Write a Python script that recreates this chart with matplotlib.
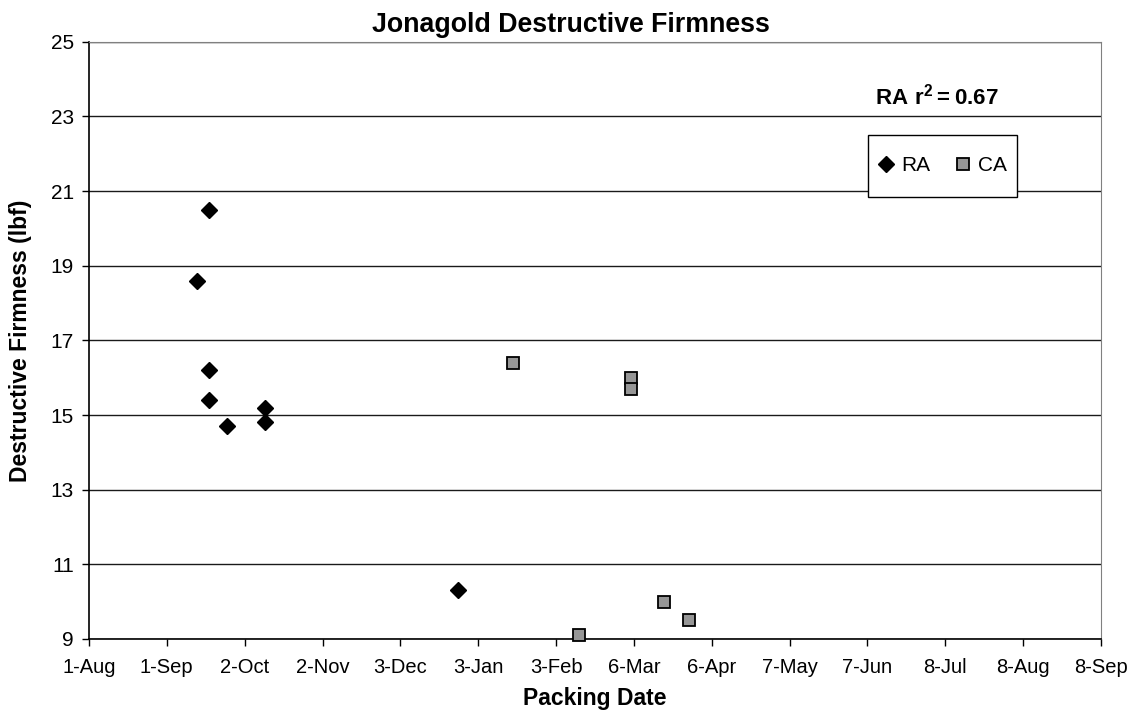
import datetime as dt
import matplotlib
matplotlib.use("Agg")
import matplotlib.pyplot as plt
import matplotlib.dates as mdates
from matplotlib.patches import Rectangle
from matplotlib.ticker import FixedLocator, FuncFormatter

plt.rcParams['font.family'] = ['Liberation Sans', 'DejaVu Sans']
plt.rcParams['mathtext.fontset'] = 'custom'
plt.rcParams['mathtext.rm'] = 'Liberation Sans'
plt.rcParams['mathtext.bf'] = 'Liberation Sans:bold'

# packing dates and firmness
ra_dates = ['2006-09-13', '2006-09-18', '2006-09-18', '2006-09-18',
            '2006-09-25', '2006-10-10', '2006-10-10', '2006-12-26']
ra_firm = [18.6, 20.5, 16.2, 15.4, 14.7, 15.2, 14.8, 10.3]

ca_dates = ['2007-01-17', '2007-02-12', '2007-03-05', '2007-03-05',
            '2007-03-18', '2007-03-28']
ca_firm = [16.4, 9.1, 16.0, 15.7, 10.0, 9.5]

x_start = dt.date(2006, 8, 1)
x_step_days = 31
n_steps = 13
y_ticks = [9, 11, 13, 15, 17, 19, 21, 23, 25]


def to_date(s):
    return dt.datetime.strptime(s, '%Y-%m-%d')


fig = plt.figure(figsize=(11.36, 7.13), dpi=100)
ax = fig.add_axes([0.0783, 0.1038, 0.8909, 0.8377])

ra_line, = ax.plot([to_date(d) for d in ra_dates], ra_firm, linestyle='none', marker='D',
                   ms=8.5, color='black', mec='black', label='RA', clip_on=False, zorder=3)
ca_line, = ax.plot([to_date(d) for d in ca_dates], ca_firm, linestyle='none', marker='s',
                   ms=8.3, mfc='#969696', mec='black', mew=1.3, label='CA', clip_on=False, zorder=3)

# x axis: Excel style date axis, 31 day steps
tick_dates = [x_start + dt.timedelta(days=x_step_days * i) for i in range(n_steps + 1)]
ax.set_xlim(tick_dates[0], tick_dates[-1])
ax.xaxis.set_major_locator(FixedLocator(mdates.date2num(tick_dates)))


def fmt_date(x, pos):
    d = mdates.num2date(x)
    return f"{d.day}-{d.strftime('%b')}"


ax.xaxis.set_major_formatter(FuncFormatter(fmt_date))

ax.set_ylim(9, 25)
ax.set_yticks(y_ticks)
ax.yaxis.grid(True, color='#1a1a1a', linewidth=1.0)
ax.set_axisbelow(True)

ax.tick_params(axis='both', direction='out', length=5, width=1, colors='black')
ax.tick_params(axis='y', pad=6, labelsize=15)
ax.tick_params(axis='x', pad=9, labelsize=14.5)

for side in ['top', 'right']:
    ax.spines[side].set_color('#808080')
for side in ['left', 'bottom']:
    ax.spines[side].set_color('black')
    ax.spines[side].set_linewidth(1.2)

ax.set_xlabel('Packing Date', fontsize=16.5, fontweight='bold', labelpad=7)
ax.set_ylabel('Destructive Firmness (lbf)', fontsize=16.5, fontweight='bold', labelpad=13)
fig.text(0.503, 0.965, 'Jonagold Destructive Firmness', ha='center', va='center',
         fontsize=19.3, fontweight='bold')

fig.text(0.825, 0.865, r'$\mathbf{RA\ r^2 = 0.67}$', ha='center', va='center', fontsize=16)

# legend box drawn on its own, Excel style
fig.patches.append(Rectangle((868 / 1136, 1 - 197 / 713), 149 / 1136, 62 / 713,
                             transform=fig.transFigure, facecolor='white',
                             edgecolor='black', linewidth=1.0, zorder=4))
leg = fig.legend(handles=[ra_line, ca_line], loc='center', bbox_to_anchor=(0.8296, 0.7672),
                 ncol=2, fontsize=15, frameon=False,
                 handlelength=0.8, handletextpad=0.3, columnspacing=1.2, borderpad=0.5,
                 borderaxespad=0)
leg.set_zorder(5)

fig.savefig('out.png', dpi=100, facecolor='white')
